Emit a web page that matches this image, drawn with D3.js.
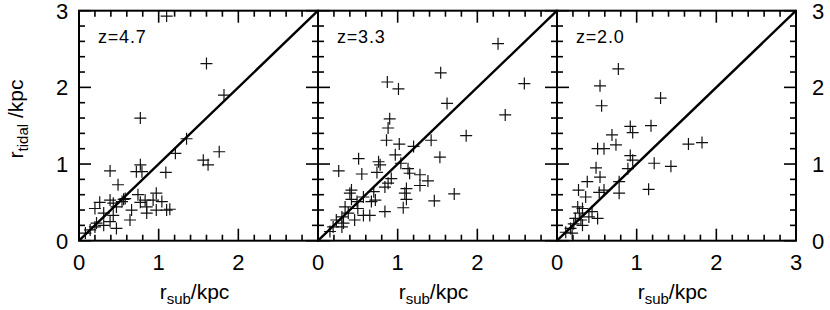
<!DOCTYPE html>
<html>
<head>
<meta charset="utf-8">
<script src="https://cdn.jsdelivr.net/npm/d3@7"></script>
<style>
  html, body { margin: 0; padding: 0; background: #fff; }
  svg { display: block; font-family: "Liberation Sans", Arial, sans-serif; }
</style>
</head>
<body>
<svg id="chart" width="830" height="310"></svg>
<script>
/* ── Data ─────────────────────────────────────────────────────────────────── */

const PANEL_LABELS = ["z=4.7", "z=3.3", "z=2.0"];
const X_TICKS = [0, 1, 2, 3];
const Y_TICKS = [0, 1, 2, 3];

// [r_sub, r_tidal] in kpc
const Z47 = [
  [1.10, 2.93], [1.60, 2.31], [1.82, 1.90], [0.77, 1.60], [1.35, 1.33],
  [1.21, 1.14], [1.76, 1.16], [1.56, 1.05], [1.62, 0.99], [0.39, 0.91],
  [0.77, 0.99], [0.72, 0.90], [0.79, 0.90], [1.09, 0.89], [0.49, 0.73],
  [0.26, 0.50], [0.39, 0.53], [0.54, 0.51], [0.58, 0.55], [0.74, 0.60],
  [0.77, 0.50], [0.93, 0.53], [0.97, 0.62], [1.04, 0.51], [1.14, 0.41],
  [1.10, 0.40], [0.85, 0.44], [0.85, 0.36], [0.66, 0.40], [0.64, 0.27],
  [0.97, 0.40], [0.20, 0.42], [0.43, 0.33], [0.39, 0.25], [0.31, 0.20],
  [0.22, 0.23], [0.47, 0.16], [0.14, 0.14], [0.08, 0.10], [0.20, 0.18],
  [0.47, 0.44], [0.31, 0.36], [0.43, 0.49], [0.56, 0.54], [0.83, 0.53],
];

const Z33 = [
  [2.26, 2.57], [1.54, 2.19], [2.59, 2.05], [0.87, 2.07], [1.01, 1.98],
  [1.62, 1.79], [2.35, 1.64], [0.90, 1.59], [0.88, 1.47], [0.86, 1.31],
  [1.02, 1.26], [1.20, 1.23], [1.42, 1.31], [1.86, 1.37], [0.97, 1.12],
  [1.53, 1.09], [0.51, 1.07], [0.76, 1.03], [0.78, 0.99], [1.04, 1.01],
  [1.13, 0.94], [0.26, 0.91], [0.55, 0.87], [0.74, 0.89], [0.92, 0.81],
  [1.15, 0.88], [1.28, 0.86], [0.88, 0.75], [1.38, 0.78], [1.28, 0.72],
  [1.11, 0.68], [1.09, 0.62], [0.84, 0.70], [1.71, 0.61], [1.46, 0.52],
  [1.11, 0.54], [1.07, 0.43], [0.72, 0.53], [0.70, 0.64], [0.84, 0.38],
  [0.65, 0.33], [0.40, 0.62], [0.42, 0.54], [0.49, 0.51], [0.50, 0.42],
  [0.34, 0.44], [0.38, 0.36], [0.46, 0.27], [0.30, 0.31], [0.23, 0.27],
  [0.19, 0.18], [0.30, 0.18], [0.15, 0.12], [0.42, 0.66], [0.57, 0.57],
  [0.32, 0.23], [0.57, 0.33], [0.67, 0.51],
];

const Z20 = [
  [0.77, 2.24], [0.54, 2.02], [1.30, 1.86], [0.56, 1.76], [0.92, 1.49],
  [0.95, 1.41], [1.18, 1.50], [0.69, 1.38], [0.74, 1.25], [0.51, 1.20],
  [0.59, 1.20], [1.65, 1.26], [1.82, 1.28], [0.92, 1.11], [0.95, 1.05],
  [1.22, 1.01], [1.43, 0.97], [0.49, 0.95], [0.89, 0.94], [0.54, 0.83],
  [0.38, 0.77], [0.78, 0.77], [0.27, 0.66], [1.15, 0.67], [0.78, 0.62],
  [0.53, 0.63], [0.59, 0.66], [0.36, 0.57], [0.32, 0.42], [0.44, 0.38],
  [0.51, 0.29], [0.28, 0.36], [0.23, 0.29], [0.30, 0.27], [0.21, 0.22],
  [0.17, 0.16], [0.11, 0.11], [0.40, 0.31], [0.26, 0.44], [0.32, 0.20],
  [0.19, 0.10],
];

const SERIES = [Z47, Z33, Z20];

/* ── Layout ───────────────────────────────────────────────────────────────── */

const PANEL_W = 239;
const TOP = 10.7;
const BOTTOM = 240.7;
const LEFT0 = 79;
const CROSS = 6;

const svg = d3.select("#chart");

const y = d3.scaleLinear().domain([0, 3]).range([BOTTOM, TOP]);

/* ── Panels ───────────────────────────────────────────────────────────────── */

SERIES.forEach((pts, i) => {
  const x0 = LEFT0 + i * PANEL_W;
  const x = d3.scaleLinear().domain([0, 3]).range([x0, x0 + PANEL_W]);
  const g = svg.append("g");

  const clipId = "clip" + i;
  svg.append("clipPath").attr("id", clipId)
    .append("rect")
    .attr("x", x0).attr("y", TOP)
    .attr("width", PANEL_W).attr("height", BOTTOM - TOP);

  // ticks on all sides, inward
  const minor = d3.range(0, 3.001, 0.2);
  const tickLen = (v) => (Math.abs(v - Math.round(v)) < 1e-6 ? 12 : 6);
  minor.forEach((v) => {
    const L = tickLen(v);
    g.append("line").attr("x1", x(v)).attr("x2", x(v))
      .attr("y1", BOTTOM).attr("y2", BOTTOM - L);
    g.append("line").attr("x1", x(v)).attr("x2", x(v))
      .attr("y1", TOP).attr("y2", TOP + L);
    g.append("line").attr("y1", y(v)).attr("y2", y(v))
      .attr("x1", x0).attr("x2", x0 + L);
    g.append("line").attr("y1", y(v)).attr("y2", y(v))
      .attr("x1", x0 + PANEL_W).attr("x2", x0 + PANEL_W - L);
  });
  g.selectAll("line").attr("stroke", "#000").attr("stroke-width", 1.6);

  // crosses
  const pg = g.append("g").attr("clip-path", `url(#${clipId})`)
    .attr("stroke", "#111").attr("stroke-width", 1.2);
  pts.forEach(([px, py]) => {
    pg.append("path")
      .attr("d", `M${x(px) - CROSS},${y(py)}h${2 * CROSS}M${x(px)},${y(py) - CROSS}v${2 * CROSS}`);
  });

  // one-to-one line
  g.append("line")
    .attr("x1", x(0)).attr("y1", y(0))
    .attr("x2", x(3)).attr("y2", y(3))
    .attr("stroke", "#000").attr("stroke-width", 2.4);

  // frame
  g.append("rect")
    .attr("x", x0).attr("y", TOP)
    .attr("width", PANEL_W).attr("height", BOTTOM - TOP)
    .attr("fill", "none").attr("stroke", "#000").attr("stroke-width", 2);

  // redshift label
  g.append("text")
    .attr("x", x0 + 19).attr("y", 43)
    .attr("font-size", 18)
    .attr("letter-spacing", 0.8)
    .text(PANEL_LABELS[i]);

  // x tick labels
  const xt = i === SERIES.length - 1 ? X_TICKS : X_TICKS.slice(0, 3);
  xt.forEach((v) => {
    g.append("text")
      .attr("x", x(v)).attr("y", 270)
      .attr("text-anchor", "middle")
      .attr("font-size", 22)
      .text(v);
  });

  // x axis title
  const xl = g.append("text")
    .attr("x", x(1.45)).attr("y", 299)
    .attr("text-anchor", "middle")
    .attr("font-size", 21);
  xl.append("tspan").text("r");
  xl.append("tspan").attr("font-size", 15).attr("dy", 5).text("sub");
  xl.append("tspan").attr("dy", -5).text("/kpc");
});

/* ── Y axes ───────────────────────────────────────────────────────────────── */

Y_TICKS.forEach((v) => {
  svg.append("text")
    .attr("x", 62).attr("y", y(v) + 8)
    .attr("text-anchor", "middle")
    .attr("font-size", 22)
    .text(v);
  svg.append("text")
    .attr("x", LEFT0 + 3 * PANEL_W + 22).attr("y", y(v) + 8)
    .attr("text-anchor", "middle")
    .attr("font-size", 22)
    .text(v);
});

const yl = svg.append("text")
  .attr("transform", `translate(23, 119) rotate(-90)`)
  .attr("text-anchor", "middle")
  .attr("font-size", 21);
yl.append("tspan").text("r");
yl.append("tspan").attr("font-size", 15).attr("dy", 5).text("tidal");
yl.append("tspan").attr("dy", -5).text(" /kpc");
</script>
</body>
</html>
